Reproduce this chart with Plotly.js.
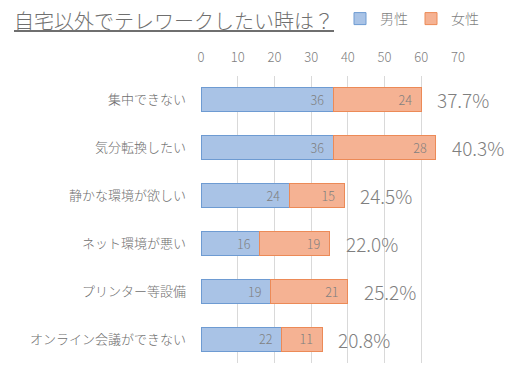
<!DOCTYPE html>
<html>
<head>
<meta charset="utf-8">
<script src="https://cdn.plot.ly/plotly-3.0.1.min.js"></script>
<style>html,body{margin:0;padding:0;background:#fff;}#chart{width:516px;height:372px;}</style>
</head>
<body>
<div id="chart"></div>
<script>
const categories = ["集中できない", "気分転換したい", "静かな環境が欲しい", "ネット環境が悪い", "プリンター等設備", "オンライン会議ができない"];
const male = [36, 36, 24, 16, 19, 22];
const female = [24, 28, 15, 19, 21, 11];
const percentLabels = ["37.7%", "40.3%", "24.5%", "22.0%", "25.2%", "20.8%"];
const seriesNames = ["男性", "女性"];
const xTicks = [0, 10, 20, 30, 40, 50, 60, 70];

const FONT = '"Noto Sans CJK JP", "Noto Sans", sans-serif';
const W = 300;

const traces = [
  {
    type: 'bar', orientation: 'h', name: seriesNames[0],
    y: categories, x: male,
    marker: {color: '#a9c3e6', line: {color: '#6e9bd2', width: 1}},
    text: male.map(String), texttemplate: '%{text}\u2002',
    textposition: 'inside', insidetextanchor: 'end',
    textfont: {color: '#7f7f7f', size: 14, family: FONT, weight: W},
    hoverinfo: 'skip'
  },
  {
    type: 'bar', orientation: 'h', name: seriesNames[1],
    y: categories, x: female,
    marker: {color: '#f5b293', line: {color: '#ec8a57', width: 1}},
    text: female.map(String), texttemplate: '%{text}\u2002',
    textposition: 'inside', insidetextanchor: 'end',
    textfont: {color: '#7f7f7f', size: 14, family: FONT, weight: W},
    hoverinfo: 'skip'
  }
];

const annotations = categories.map((c, i) => ({
  x: male[i] + female[i], y: c, xref: 'x', yref: 'y',
  text: percentLabels[i], showarrow: false,
  xanchor: 'left', yanchor: 'middle', xshift: 14,
  font: {size: 19, color: '#7f7f7f', family: FONT, weight: W}
}));

const layout = {
  width: 516, height: 372,
  margin: {l: 201, r: 58, t: 76, b: 9},
  paper_bgcolor: '#fff', plot_bgcolor: '#fff',
  font: {family: FONT, color: '#7f7f7f', weight: W},
  barmode: 'stack', bargap: 0.5,
  showlegend: true,
  title: {
    text: '<u>自宅以外でテレワークしたい時は？</u>',
    x: 14 / 516, xanchor: 'left', xref: 'container',
    y: 1 - 22 / 372, yanchor: 'middle', yref: 'container',
    font: {size: 20, color: '#6f6f6f', family: FONT, weight: W}
  },
  legend: {
    orientation: 'h', xref: 'container', yref: 'container',
    x: 340 / 516, y: 1 - 3 / 372, xanchor: 'left', yanchor: 'top',
    font: {size: 14, color: '#7f7f7f', family: FONT, weight: W},
    traceorder: 'normal', entrywidth: 26, entrywidthmode: 'pixels'
  },
  xaxis: {
    side: 'top', range: [0, 70], tickvals: xTicks, ticktext: xTicks.map(String),
    showgrid: true, gridcolor: '#d9d9d9', gridwidth: 1,
    zeroline: false, showline: false, ticks: '',
    tickfont: {size: 13, color: '#7f7f7f', family: FONT, weight: W},
    ticklabelstandoff: 10, fixedrange: true
  },
  yaxis: {
    autorange: 'reversed', showgrid: false, zeroline: false, showline: false,
    ticks: '', tickfont: {size: 13, color: '#6f6f6f', family: FONT, weight: W},
    ticklabelstandoff: 14, fixedrange: true
  },
  annotations: annotations
};

Plotly.newPlot('chart', traces, layout, {displayModeBar: false, staticPlot: true});
</script>
</body>
</html>
